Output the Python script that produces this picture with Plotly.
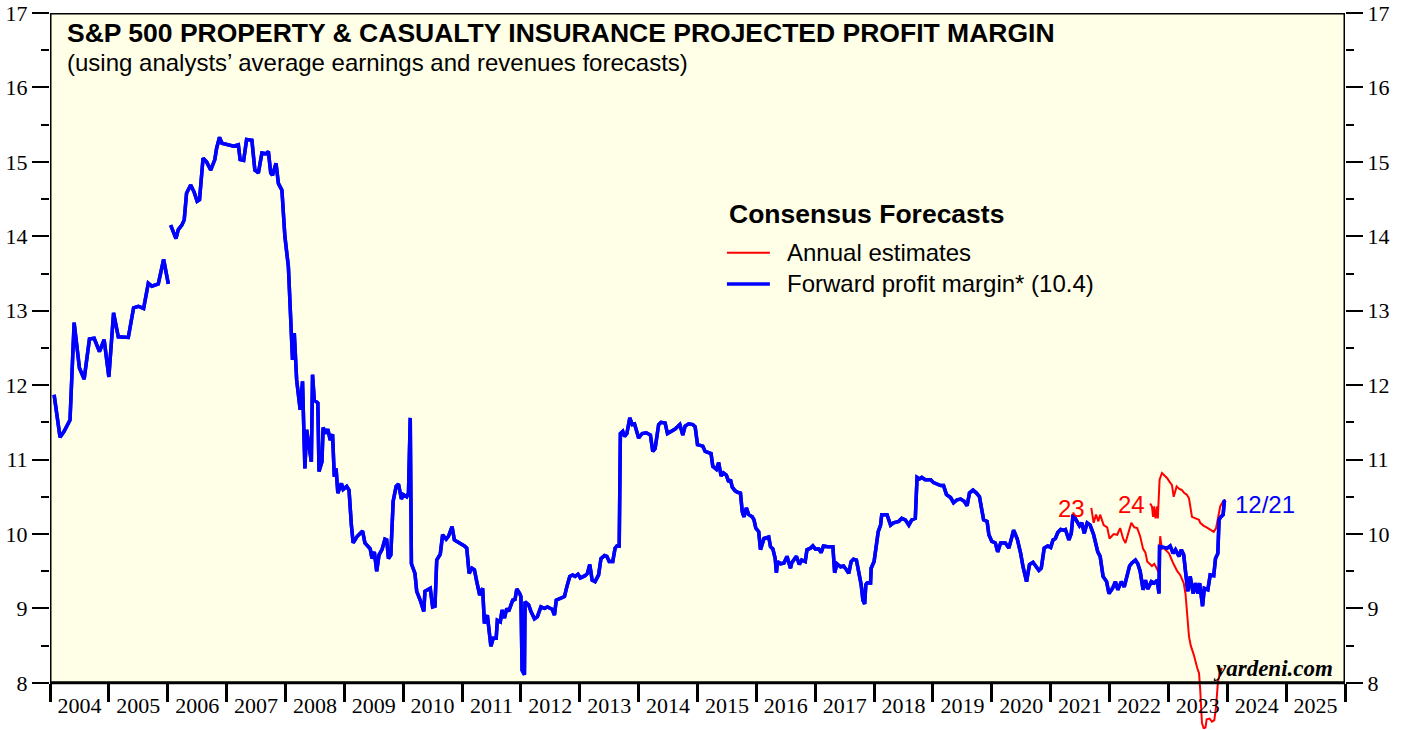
import plotly.graph_objects as go

# forward profit margin (decimal year, %), gap early 2006
fwd_year = [
    2004.07, 2004.17, 2004.24, 2004.34, 2004.41, 2004.50, 2004.58, 2004.67, 2004.75, 2004.84,
    2004.92, 2005.00, 2005.08, 2005.16, 2005.33, 2005.42, 2005.50, 2005.59, 2005.67, 2005.73,
    2005.84, 2005.93, 2006.01, 2006.03,
    2006.05, 2006.14, 2006.18, 2006.24, 2006.28, 2006.32, 2006.39, 2006.45, 2006.50, 2006.54,
    2006.60, 2006.66, 2006.73, 2006.80, 2006.83, 2006.88, 2006.92, 2007.03, 2007.12, 2007.20,
    2007.23, 2007.29, 2007.34, 2007.43, 2007.48, 2007.54, 2007.60, 2007.67, 2007.71, 2007.75,
    2007.78, 2007.84, 2007.88, 2007.94, 2007.99, 2008.05, 2008.09, 2008.12, 2008.15, 2008.19,
    2008.25, 2008.29, 2008.33, 2008.36, 2008.44, 2008.46, 2008.49, 2008.55, 2008.57, 2008.62,
    2008.64, 2008.69, 2008.72, 2008.76, 2008.80, 2008.83, 2008.86, 2008.89, 2008.95, 2008.98,
    2009.04, 2009.08, 2009.12, 2009.15, 2009.22, 2009.27, 2009.31, 2009.35, 2009.39, 2009.44,
    2009.47, 2009.51, 2009.55, 2009.59, 2009.64, 2009.69, 2009.72, 2009.75, 2009.79, 2009.83,
    2009.88, 2009.92, 2009.97, 2010.00, 2010.06, 2010.09, 2010.12, 2010.14, 2010.20, 2010.23,
    2010.29, 2010.35, 2010.37, 2010.46, 2010.50, 2010.54, 2010.57, 2010.63, 2010.67, 2010.73,
    2010.77, 2010.83, 2010.87, 2010.97, 2011.04, 2011.08, 2011.12, 2011.17, 2011.21, 2011.25,
    2011.30, 2011.35, 2011.38, 2011.43, 2011.49, 2011.53, 2011.58, 2011.60, 2011.65, 2011.68,
    2011.72, 2011.76, 2011.79, 2011.82, 2011.86, 2011.90, 2011.93, 2011.98, 2012.00, 2012.02,
    2012.06, 2012.07, 2012.13, 2012.17, 2012.23, 2012.28, 2012.34, 2012.40, 2012.45, 2012.53,
    2012.57, 2012.60, 2012.67, 2012.74, 2012.78, 2012.83, 2012.88, 2012.92, 2012.97, 2013.01,
    2013.09, 2013.13, 2013.17, 2013.21, 2013.26, 2013.32, 2013.36, 2013.42, 2013.46, 2013.50,
    2013.56, 2013.60, 2013.63, 2013.67, 2013.69, 2013.73, 2013.76, 2013.80, 2013.85, 2013.89,
    2013.93, 2014.00, 2014.06, 2014.13, 2014.20, 2014.24, 2014.28, 2014.34, 2014.38, 2014.45,
    2014.49, 2014.55, 2014.62, 2014.70, 2014.75, 2014.79, 2014.85, 2014.92, 2014.96, 2015.00,
    2015.09, 2015.13, 2015.23, 2015.26, 2015.32, 2015.36, 2015.40, 2015.44, 2015.49, 2015.53,
    2015.56, 2015.59, 2015.64, 2015.68, 2015.73, 2015.76, 2015.79, 2015.83, 2015.87, 2015.93,
    2015.96, 2015.99, 2016.04, 2016.07, 2016.09, 2016.13, 2016.21, 2016.24, 2016.28, 2016.32,
    2016.34, 2016.36, 2016.41, 2016.47, 2016.52, 2016.58, 2016.60, 2016.68, 2016.73, 2016.77,
    2016.83, 2016.86, 2016.92, 2016.96, 2017.00, 2017.06, 2017.10, 2017.14, 2017.21, 2017.30,
    2017.33, 2017.37, 2017.43, 2017.48, 2017.53, 2017.57, 2017.61, 2017.65, 2017.70, 2017.74,
    2017.78, 2017.81, 2017.84, 2017.86, 2017.88, 2017.94, 2017.95, 2018.00, 2018.04, 2018.07,
    2018.11, 2018.13, 2018.22, 2018.28, 2018.33, 2018.42, 2018.47, 2018.53, 2018.59, 2018.64,
    2018.70, 2018.73, 2018.77, 2018.81, 2018.87, 2018.96, 2019.01, 2019.07, 2019.13, 2019.18,
    2019.23, 2019.30, 2019.35, 2019.41, 2019.47, 2019.53, 2019.58, 2019.62, 2019.68, 2019.74,
    2019.79, 2019.84, 2019.86, 2019.92, 2019.95, 2020.00, 2020.06, 2020.10, 2020.15, 2020.23,
    2020.29, 2020.37, 2020.43, 2020.49, 2020.53, 2020.59, 2020.64, 2020.70, 2020.80, 2020.84,
    2020.89, 2020.95, 2021.00, 2021.04, 2021.08, 2021.12, 2021.17, 2021.22, 2021.25, 2021.31,
    2021.35, 2021.38, 2021.44, 2021.49, 2021.53, 2021.57, 2021.62, 2021.67, 2021.73, 2021.80,
    2021.84, 2021.89, 2021.95, 2021.99, 2022.05, 2022.10, 2022.14, 2022.20, 2022.25, 2022.30,
    2022.34, 2022.38, 2022.44, 2022.48, 2022.52, 2022.57, 2022.61, 2022.65, 2022.71, 2022.76,
    2022.81, 2022.84, 2022.85, 2022.92, 2022.98, 2023.03, 2023.08, 2023.12, 2023.18, 2023.22,
    2023.26, 2023.29, 2023.33, 2023.37, 2023.42, 2023.46, 2023.50, 2023.53, 2023.58, 2023.61,
    2023.67, 2023.71, 2023.77, 2023.80, 2023.84, 2023.86, 2023.89, 2023.93, 2023.95, 2023.97,
]
fwd_margin = [
    11.87, 11.30, 11.38, 11.53, 12.84, 12.23, 12.08, 12.62, 12.63, 12.45,
    12.61, 12.11, 12.97, 12.65, 12.64, 13.04, 13.06, 13.03, 13.37, 13.33,
    13.36, 13.69, 13.36, None,
    14.15, 13.97, 14.09, 14.15, 14.22, 14.58, 14.69, 14.59, 14.47, 14.49,
    15.05, 15.00, 14.89, 15.03, 15.18, 15.33, 15.25, 15.23, 15.21, 15.23,
    15.03, 15.02, 15.30, 15.29, 14.89, 14.85, 15.12, 15.11, 15.14, 14.85,
    14.82, 14.98, 14.71, 14.62, 14.00, 13.59, 12.92, 12.34, 12.70, 12.07,
    11.67, 12.05, 10.88, 11.40, 10.97, 12.14, 11.80, 11.76, 10.84, 10.97,
    11.43, 11.35, 11.41, 11.26, 11.34, 10.77, 10.88, 10.55, 10.68, 10.60,
    10.64, 10.59, 10.12, 9.88, 9.97, 10.01, 10.04, 9.88, 9.85, 9.80,
    9.67, 9.76, 9.50, 9.72, 9.79, 9.93, 9.92, 9.67, 9.72, 10.44,
    10.64, 10.67, 10.47, 10.53, 10.50, 10.55, 11.56, 9.60, 9.47, 9.23,
    9.11, 8.96, 9.23, 9.27, 9.02, 9.03, 9.65, 9.73, 9.99, 9.93,
    9.97, 10.10, 9.92, 9.88, 9.84, 9.81, 9.47, 9.54, 9.52, 9.36,
    9.18, 9.27, 8.80, 8.91, 8.49, 8.60, 8.60, 8.84, 8.82, 8.98,
    8.87, 9.00, 8.96, 9.02, 9.11, 9.12, 9.26, 9.20, 9.16, 8.17,
    8.11, 9.09, 9.05, 8.96, 8.86, 8.89, 9.02, 9.00, 9.02, 8.99,
    8.91, 9.11, 9.14, 9.16, 9.29, 9.43, 9.45, 9.43, 9.46, 9.41,
    9.44, 9.47, 9.59, 9.38, 9.36, 9.45, 9.67, 9.71, 9.70, 9.63,
    9.63, 9.81, 9.84, 9.84, 11.35, 11.38, 11.31, 11.35, 11.56, 11.47,
    11.48, 11.29, 11.35, 11.36, 11.33, 11.11, 11.15, 11.47, 11.50, 11.49,
    11.35, 11.38, 11.41, 11.47, 11.33, 11.45, 11.48, 11.47, 11.44, 11.20,
    11.18, 11.11, 11.08, 10.91, 10.87, 10.96, 10.78, 10.82, 10.79, 10.70,
    10.73, 10.63, 10.58, 10.56, 10.55, 10.30, 10.23, 10.35, 10.26, 10.23,
    10.19, 10.08, 10.03, 9.79, 9.85, 9.94, 9.96, 9.83, 9.80, 9.67,
    9.48, 9.63, 9.60, 9.61, 9.70, 9.54, 9.61, 9.70, 9.59, 9.65,
    9.63, 9.79, 9.81, 9.84, 9.80, 9.80, 9.75, 9.84, 9.83, 9.83,
    9.48, 9.60, 9.56, 9.57, 9.52, 9.47, 9.63, 9.66, 9.65, 9.47,
    9.32, 9.11, 9.06, 9.32, 9.34, 9.34, 9.54, 9.63, 9.92, 10.03,
    10.12, 10.26, 10.26, 10.12, 10.15, 10.17, 10.21, 10.19, 10.12, 10.19,
    10.21, 10.76, 10.74, 10.76, 10.73, 10.73, 10.69, 10.67, 10.65, 10.65,
    10.53, 10.49, 10.42, 10.46, 10.47, 10.44, 10.38, 10.55, 10.59, 10.55,
    10.50, 10.28, 10.19, 10.17, 9.99, 9.90, 9.88, 9.76, 9.88, 9.88,
    9.81, 10.05, 9.94, 9.74, 9.56, 9.36, 9.59, 9.62, 9.51, 9.54,
    9.81, 9.84, 9.82, 9.92, 9.94, 10.02, 10.06, 10.05, 10.06, 9.92,
    10.01, 10.26, 10.17, 10.11, 10.15, 10.01, 10.15, 10.12, 9.99, 9.76,
    9.70, 9.43, 9.36, 9.20, 9.27, 9.36, 9.25, 9.36, 9.29, 9.43,
    9.57, 9.61, 9.65, 9.60, 9.50, 9.25, 9.38, 9.26, 9.36, 9.34,
    9.38, 9.20, 9.83, 9.82, 9.81, 9.84, 9.74, 9.79, 9.70, 9.79,
    9.72, 9.50, 9.23, 9.43, 9.20, 9.34, 9.20, 9.34, 9.03, 9.27,
    9.25, 9.45, 9.44, 9.67, 9.74, 10.19, 10.23, 10.26, 10.44, 10.45,
]

# annual estimate for 2023
est23_year = [
    2021.69, 2021.73, 2021.77, 2021.81, 2021.84, 2021.90, 2021.96, 2022.00, 2022.07, 2022.13,
    2022.18, 2022.23, 2022.27, 2022.33, 2022.37, 2022.42, 2022.47, 2022.52, 2022.57, 2022.61,
    2022.64, 2022.68, 2022.72, 2022.76, 2022.81, 2022.84, 2022.86, 2022.89, 2022.92, 2023.01,
    2023.08, 2023.15, 2023.20, 2023.26, 2023.29, 2023.32, 2023.35, 2023.38, 2023.43, 2023.49,
    2023.52, 2023.54, 2023.56, 2023.57, 2023.60, 2023.63, 2023.65, 2023.70, 2023.74, 2023.78,
    2023.81, 2023.84, 2023.87, 2023.91,
]
est23_margin = [
    10.35, 10.15, 10.26, 10.17, 10.26, 10.12, 10.09, 9.94, 10.00, 9.99,
    10.08, 9.94, 9.88, 10.06, 10.15, 10.09, 10.08, 9.97, 9.80, 9.75,
    9.63, 9.60, 9.57, 9.60, 9.52, 9.48, 9.97, 9.80, 9.81, 9.74,
    9.61, 9.50, 9.45, 9.34, 9.20, 8.89, 8.62, 8.50, 8.38, 8.20,
    8.13, 7.91, 7.68, 7.46, 7.39, 7.40, 7.51, 7.52, 7.48, 7.50,
    7.68, 8.00, 8.13, 8.20,
]

# annual estimate for 2024
est24_year = [
    2022.69, 2022.72, 2022.74, 2022.76, 2022.78, 2022.81, 2022.82, 2022.85, 2022.89, 2022.93,
    2022.98, 2023.02, 2023.06, 2023.09, 2023.14, 2023.18, 2023.23, 2023.27, 2023.31, 2023.35,
    2023.38, 2023.40, 2023.46, 2023.52, 2023.54, 2023.60, 2023.65, 2023.71, 2023.77, 2023.81,
    2023.84, 2023.88, 2023.93, 2023.97,
]
est24_margin = [
    10.41, 10.37, 10.23, 10.37, 10.21, 10.37, 10.21, 10.73, 10.82, 10.79,
    10.75, 10.70, 10.66, 10.50, 10.64, 10.61, 10.59, 10.55, 10.53, 10.48,
    10.35, 10.23, 10.21, 10.19, 10.15, 10.11, 10.09, 10.06, 10.03, 10.08,
    10.23, 10.37, 10.44, 10.46,
]

years = list(range(2004, 2026))
y_ticks = list(range(8, 18))

BLUE = "#0000FF"
RED = "#FF0000"
SERIF = "Liberation Serif"
SANS = "Liberation Sans"

fig = go.Figure()
fig.add_trace(go.Scatter(x=est23_year, y=est23_margin, mode="lines",
                         line=dict(color=RED, width=2), hoverinfo="skip"))
fig.add_trace(go.Scatter(x=est24_year, y=est24_margin, mode="lines",
                         line=dict(color=RED, width=2), hoverinfo="skip"))
fig.add_trace(go.Scatter(x=fwd_year, y=fwd_margin, mode="lines",
                         line=dict(color=BLUE, width=3.5), hoverinfo="skip"))
# same line again on the right-hand axis so that axis gets drawn with labels
fig.add_trace(go.Scatter(x=fwd_year, y=fwd_margin, mode="lines", yaxis="y2",
                         line=dict(color=BLUE, width=3.5), hoverinfo="skip"))

y_lo, y_hi = 7.38, 17
x_lo, x_hi = years[0], years[-1] + 1
axis_pos = (y_ticks[0] - y_lo) / (y_hi - y_lo)

yaxis_common = dict(
    range=[y_lo, y_hi], tickvals=y_ticks, ticks="outside", ticklen=17, tickwidth=2,
    tickcolor="black", showgrid=False, zeroline=False, showline=False, automargin=False,
    ticklabeloverflow="allow",
    tickfont=dict(family=SERIF, size=22, color="black"),
    minor=dict(tickvals=[v + 0.5 for v in y_ticks[:-1]], ticks="outside",
               ticklen=8, tickwidth=2, tickcolor="black", showgrid=False),
)

fig.update_layout(
    width=1405, height=730,
    margin=dict(l=50, r=60, t=13, b=1, autoexpand=False),
    paper_bgcolor="white", plot_bgcolor="white",
    showlegend=False,
    xaxis=dict(
        range=[x_lo, x_hi], anchor="free", position=axis_pos, automargin=False,
        ticklabeloverflow="allow",
        tickvals=[y + 0.5 for y in years], ticktext=[str(y) for y in years],
        ticks="outside", ticklen=3, tickcolor="rgba(0,0,0,0)",
        tickfont=dict(family=SERIF, size=22, color="black"),
        minor=dict(tickvals=years + [x_hi], ticks="outside", ticklen=18,
                   tickwidth=3, tickcolor="black", showgrid=False),
        showgrid=False, zeroline=False, showline=False,
    ),
    yaxis=dict(**yaxis_common),
    yaxis2=dict(overlaying="y", side="right", anchor="x", **yaxis_common),
    shapes=[
        dict(type="rect", xref="x", yref="y", x0=x_lo, x1=x_hi, y0=y_ticks[0], y1=y_hi,
             fillcolor="#FFFEE6", line=dict(width=0), layer="below"),
        dict(type="rect", xref="x", yref="y", x0=x_lo, x1=x_hi, y0=y_ticks[0], y1=y_hi,
             line=dict(color="black", width=3), layer="above"),
        dict(type="line", xref="x", yref="y", x0=2015.50, x1=2016.23, y0=13.78, y1=13.78,
             line=dict(color=RED, width=2)),
        dict(type="line", xref="x", yref="y", x0=2015.50, x1=2016.23, y0=13.36, y1=13.36,
             line=dict(color=BLUE, width=3.5)),
    ],
)

annots = [
    dict(x=2004.255, y=16.73, text="<b>S&P 500 PROPERTY & CASUALTY INSURANCE PROJECTED PROFIT MARGIN</b>",
         xanchor="left", font=dict(family=SANS, size=26.5, color="black")),
    dict(x=2004.255, y=16.34, text="(using analysts’ average earnings and revenues forecasts)",
         xanchor="left", font=dict(family=SANS, size=24, color="black")),
    dict(x=2015.50, y=14.30, text="<b>Consensus Forecasts</b>",
         xanchor="left", font=dict(family=SANS, size=26.5, color="black")),
    dict(x=2016.49, y=13.78, text="Annual estimates",
         xanchor="left", font=dict(family=SANS, size=24, color="black")),
    dict(x=2016.49, y=13.36, text="Forward profit margin* (10.4)",
         xanchor="left", font=dict(family=SANS, size=24, color="black")),
    dict(x=2021.36, y=10.34, text="23", xanchor="center", font=dict(family=SANS, size=24, color=RED)),
    dict(x=2022.37, y=10.40, text="24", xanchor="center", font=dict(family=SANS, size=24, color=RED)),
    dict(x=2024.10, y=10.39, text="12/21", xanchor="left", font=dict(family=SANS, size=24, color=BLUE)),
    dict(x=2025.83, y=8.19, text="<b><i>yardeni.com</i></b>", xanchor="right",
         font=dict(family=SERIF, size=23, color="black")),
]
for a in annots:
    fig.add_annotation(xref="x", yref="y", yanchor="middle", showarrow=False, **a)

# drop the browser's default 8px body margin so the figure fills the window
fig.write_html("out.html", config={"displayModeBar": False},
               post_script="document.body.style.margin='0';")
